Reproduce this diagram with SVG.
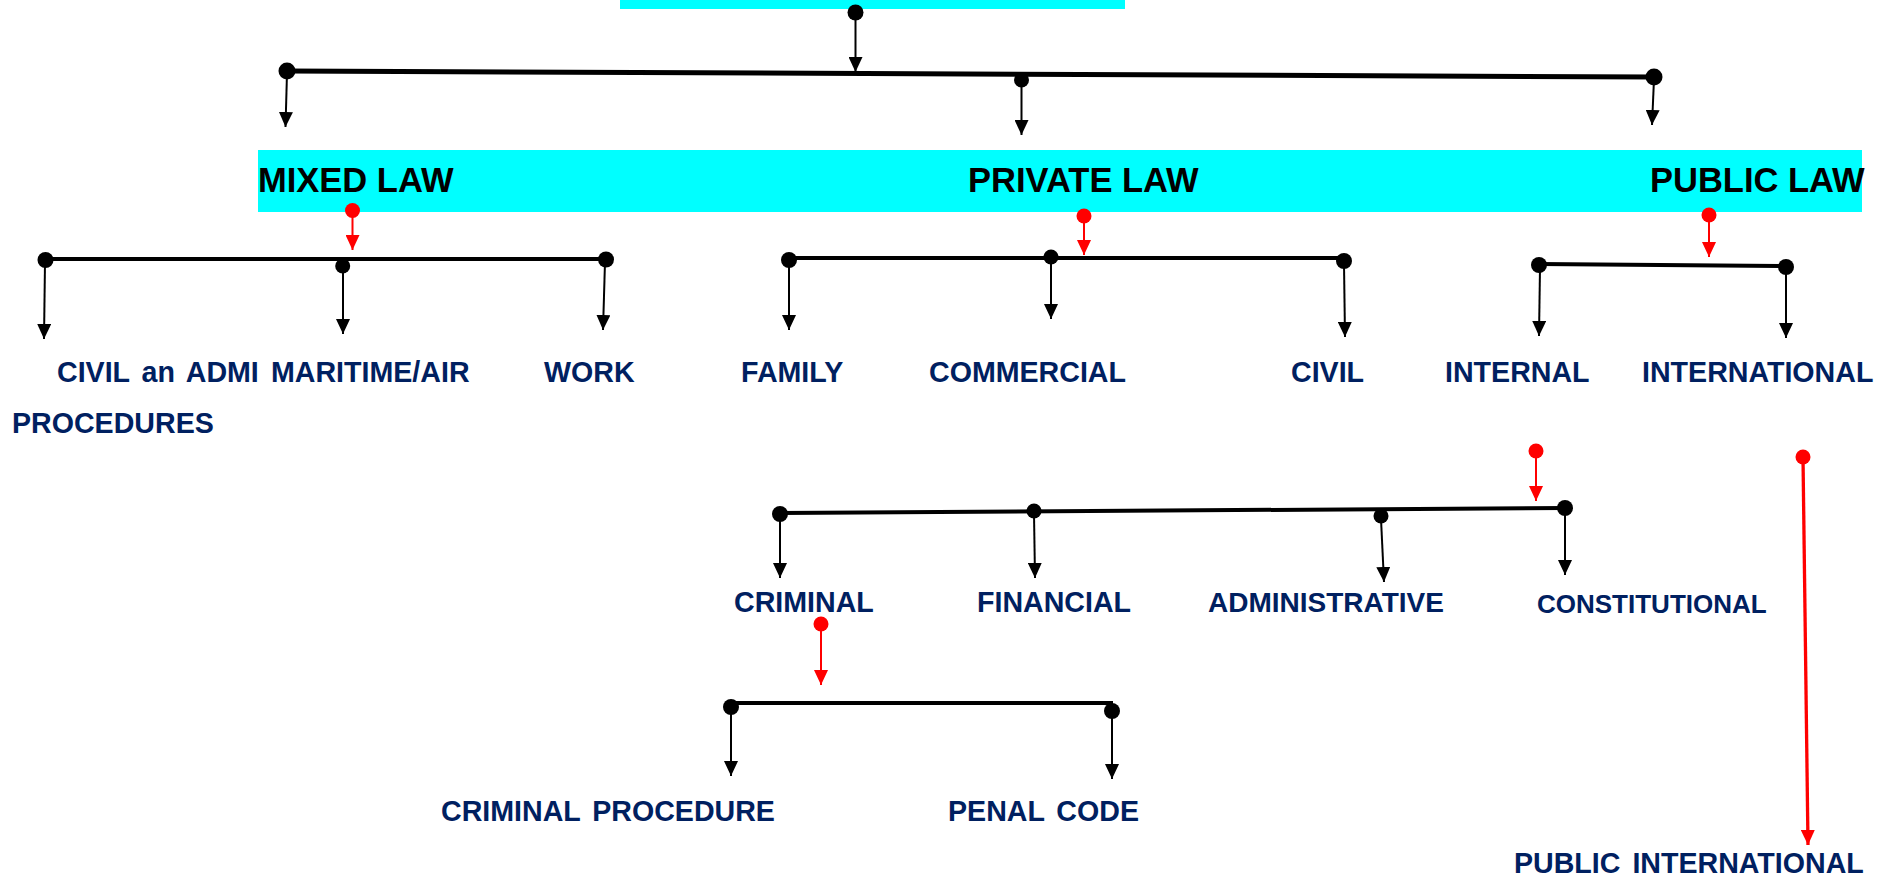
<svg xmlns="http://www.w3.org/2000/svg" width="1899" height="879" viewBox="0 0 1899 879">
<defs>
<marker id="ab" markerUnits="userSpaceOnUse" markerWidth="15" markerHeight="14" refX="15" refY="7" orient="auto"><path d="M0,0 L15,7 L0,14 z" fill="#000"/></marker>
<marker id="ar" markerUnits="userSpaceOnUse" markerWidth="15" markerHeight="14" refX="15" refY="7" orient="auto"><path d="M0,0 L15,7 L0,14 z" fill="#ff0000"/></marker>
<style>
.band{fill:#00ffff}
.head{font-family:"Liberation Sans",Arial,sans-serif;font-weight:bold;font-size:34.5px;fill:#000}
.lbl{font-family:"Liberation Sans",Arial,sans-serif;font-weight:bold;font-size:28.6px;fill:#002060;word-spacing:4px}
.bar{stroke:#000;stroke-width:4;fill:none}
.bar5{stroke:#000;stroke-width:5;fill:none}
.arr{stroke:#000;stroke-width:2;fill:none;marker-end:url(#ab)}
.rarr{stroke:#ff0000;stroke-width:2;fill:none;marker-end:url(#ar)}
.rline{stroke:#ff0000;stroke-width:3.3;fill:none;marker-end:url(#ar)}
.dot{fill:#000}
.rdot{fill:#ff0000}
</style>
</defs>
<rect width="1899" height="879" fill="#fff"/>
<g id="root"><rect class="band" x="620" y="0" width="505" height="9"/></g>
<g id="band-main"><rect class="band" x="258" y="150" width="1604" height="62"/></g>
<g id="mixed-law"><text class="head" x="258" y="192">MIXED LAW</text></g>
<g id="private-law"><text class="head" x="968" y="192">PRIVATE LAW</text></g>
<g id="public-law"><text class="head" x="1650" y="192">PUBLIC LAW</text></g>
<g id="civil-admi"><text class="lbl" x="57" y="382">CIVIL an ADMI</text><text class="lbl" x="12" y="433">PROCEDURES</text></g>
<g id="maritime-air"><text class="lbl" x="271" y="382">MARITIME/AIR</text></g>
<g id="work"><text class="lbl" x="544" y="382">WORK</text></g>
<g id="family"><text class="lbl" x="741" y="382">FAMILY</text></g>
<g id="commercial"><text class="lbl" x="929" y="382">COMMERCIAL</text></g>
<g id="civil"><text class="lbl" x="1291" y="382">CIVIL</text></g>
<g id="internal"><text class="lbl" x="1445" y="382">INTERNAL</text></g>
<g id="international"><text class="lbl" x="1642" y="382">INTERNATIONAL</text></g>
<g id="criminal"><text class="lbl" x="734" y="612">CRIMINAL</text></g>
<g id="financial"><text class="lbl" x="977" y="612">FINANCIAL</text></g>
<g id="administrative"><text class="lbl" x="1208" y="612" style="font-size:28px">ADMINISTRATIVE</text></g>
<g id="constitutional"><text class="lbl" x="1537" y="613" style="font-size:26px">CONSTITUTIONAL</text></g>
<g id="criminal-procedure"><text class="lbl" x="441" y="821">CRIMINAL PROCEDURE</text></g>
<g id="penal-code"><text class="lbl" x="948" y="821">PENAL CODE</text></g>
<g id="public-international"><text class="lbl" x="1514" y="873">PUBLIC INTERNATIONAL</text></g>
<g id="connectors">
<line class="arr" x1="855.5" y1="12.5" x2="855.5" y2="72"/>
<circle class="dot" cx="855.5" cy="12.5" r="8"/>
<line class="bar5" x1="287" y1="71" x2="1654" y2="77"/>
<circle class="dot" cx="287" cy="71" r="8.5"/>
<circle class="dot" cx="1654" cy="77" r="8.5"/>
<circle class="dot" cx="1021.5" cy="80" r="7.5"/>
<line class="arr" x1="287" y1="73" x2="285.5" y2="127"/>
<line class="arr" x1="1021.5" y1="80" x2="1021.5" y2="135"/>
<line class="arr" x1="1654" y1="79" x2="1652" y2="125"/>
<circle class="rdot" cx="352.5" cy="210.5" r="7.5"/>
<line class="rarr" x1="352.5" y1="210.5" x2="352.5" y2="250"/>
<circle class="rdot" cx="1084" cy="216" r="7.5"/>
<line class="rarr" x1="1084" y1="216" x2="1084" y2="255"/>
<circle class="rdot" cx="1709" cy="215" r="7.5"/>
<line class="rarr" x1="1709" y1="215" x2="1709" y2="257"/>
<line class="bar" x1="45" y1="259" x2="606" y2="259"/>
<circle class="dot" cx="45.5" cy="260" r="8"/>
<circle class="dot" cx="342.7" cy="266" r="7.5"/>
<circle class="dot" cx="606" cy="259.5" r="8"/>
<line class="arr" x1="45" y1="262" x2="44" y2="339"/>
<line class="arr" x1="343" y1="268" x2="343" y2="334"/>
<line class="arr" x1="605" y1="262" x2="603" y2="330"/>
<line class="bar" x1="789" y1="258" x2="1344" y2="258"/>
<circle class="dot" cx="789" cy="260" r="8"/>
<circle class="dot" cx="1051" cy="257" r="7.5"/>
<circle class="dot" cx="1344" cy="261" r="8"/>
<line class="arr" x1="789" y1="263" x2="789" y2="330"/>
<line class="arr" x1="1051" y1="260" x2="1051" y2="319"/>
<line class="arr" x1="1344" y1="264" x2="1345" y2="337"/>
<line class="bar" x1="1539" y1="264" x2="1786" y2="266"/>
<circle class="dot" cx="1539" cy="265" r="8"/>
<circle class="dot" cx="1786" cy="267" r="8"/>
<line class="arr" x1="1540" y1="268" x2="1539" y2="336"/>
<line class="arr" x1="1786" y1="270" x2="1786" y2="338"/>
<circle class="rdot" cx="1536" cy="451" r="7.5"/>
<line class="rarr" x1="1536" y1="451" x2="1536" y2="501"/>
<circle class="rdot" cx="1803" cy="457" r="7.5"/>
<line class="rline" x1="1803" y1="457" x2="1808" y2="845"/>
<line class="bar" x1="780" y1="513" x2="1565" y2="508"/>
<circle class="dot" cx="780" cy="514" r="8"/>
<circle class="dot" cx="1034" cy="511" r="7.5"/>
<circle class="dot" cx="1381" cy="516" r="7.5"/>
<circle class="dot" cx="1565" cy="508" r="8"/>
<line class="arr" x1="780" y1="516" x2="780" y2="578"/>
<line class="arr" x1="1034" y1="514" x2="1035" y2="578"/>
<line class="arr" x1="1381" y1="519" x2="1384" y2="582"/>
<line class="arr" x1="1565" y1="511" x2="1565" y2="575"/>
<circle class="rdot" cx="821" cy="624" r="7.5"/>
<line class="rarr" x1="821" y1="624" x2="821" y2="685"/>
<line class="bar" x1="731" y1="703" x2="1113" y2="703"/>
<circle class="dot" cx="731" cy="707" r="8"/>
<circle class="dot" cx="1112" cy="711" r="8"/>
<line class="arr" x1="731" y1="710" x2="731" y2="776"/>
<line class="arr" x1="1112" y1="714" x2="1112" y2="779"/>
</g>
</svg>
